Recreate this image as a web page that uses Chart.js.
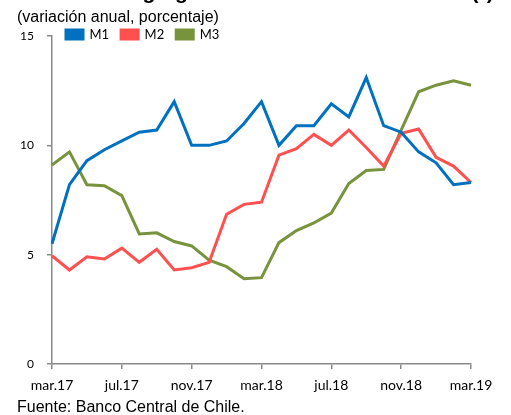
<!DOCTYPE html>
<html>
<head>
<meta charset="utf-8">
<script src="https://cdn.jsdelivr.net/npm/chart.js@4"></script>
<style>
  body { margin: 0; background: #fff; }
  #wrap { position: relative; width: 511px; height: 415px; overflow: hidden; }
  #chart { position: absolute; left: 0; top: -11px; }
  .txt { position: absolute; font-family: "Liberation Sans", Arial, sans-serif; font-size: 16px; line-height: 16px; color: #000; white-space: nowrap; }
  #title { left: 2px; top: -19px; font-size: 21px; line-height: 21px; font-weight: bold; }
  #subtitle { left: 17px; top: 9px; }
  #source { left: 17px; top: 399px; }
</style>
</head>
<body>
<div id="wrap">
  <canvas id="chart" width="511" height="426"></canvas>
  <div class="txt" id="title">Gráfico II.10 Agregados monetarios nominales (*)</div>
  <div class="txt" id="subtitle">(variación anual, porcentaje)</div>
  <div class="txt" id="source">Fuente: Banco Central de Chile.</div>
</div>
<script>
// months mar.17 - mar.19
const months = ['mar.17', 'abr.17', 'may.17', 'jun.17', 'jul.17', 'ago.17', 'sep.17', 'oct.17', 'nov.17', 'dic.17',
  'ene.18', 'feb.18', 'mar.18', 'abr.18', 'may.18', 'jun.18', 'jul.18', 'ago.18', 'sep.18', 'oct.18',
  'nov.18', 'dic.18', 'ene.19', 'feb.19', 'mar.19']

const m1 = [5.5, 8.2, 9.3, 9.8, 10.2, 10.6, 10.7, 12.0, 10.0, 10.0, 10.2, 11.0, 12.0, 10.0, 10.9, 10.9, 11.9, 11.3, 13.1, 10.9, 10.6, 9.7, 9.2, 8.2, 8.3]
const m2 = [4.95, 4.3, 4.9, 4.8, 5.3, 4.65, 5.25, 4.3, 4.4, 4.65, 6.85, 7.3, 7.4, 9.55, 9.85, 10.5, 10.0, 10.7, 9.9, 9.05, 10.55, 10.75, 9.45, 9.05, 8.3]
const m3 = [9.1, 9.7, 8.2, 8.15, 7.7, 5.95, 6.0, 5.6, 5.4, 4.75, 4.45, 3.9, 3.95, 5.55, 6.1, 6.45, 6.9, 8.25, 8.85, 8.9, 10.7, 12.45, 12.75, 12.95, 12.75]

const seriesNames = ['M1', 'M2', 'M3']
const yTicks = [0, 5, 10, 15]

const axisGrey = '#8a8a8a'

Chart.defaults.font.family = 'Lato'
Chart.defaults.color = '#000'

// legend sits on the top edge of the plot in the original, move it down there
const moveLegend = {
  id: 'moveLegend',
  afterLayout(chart) {
    const lg = chart.legend
    const h = lg.height
    lg.left = chart.chartArea.left + 2
    lg.right = chart.chartArea.right
    lg.top = chart.chartArea.top - 20
    lg.bottom = lg.top + h
  }
}

function line(label, data, color) {
  return {
    label: label,
    data: data,
    borderColor: color,
    backgroundColor: color,
    borderWidth: 3,
    pointRadius: 0,
    tension: 0,
    fill: false
  }
}

new Chart(document.getElementById('chart'), {
  type: 'line',
  data: {
    labels: months,
    datasets: [
      line(seriesNames[0], m1, '#0070C0'),
      line(seriesNames[1], m2, '#FF5050'),
      line(seriesNames[2], m3, '#77933C')
    ]
  },
  options: {
    responsive: false,
    animation: false,
    devicePixelRatio: 1,
    layout: { padding: { left: 0, top: 12, right: 40, bottom: 21 } },
    plugins: {
      legend: {
        position: 'top',
        align: 'start',
        labels: {
          boxWidth: 17,
          boxHeight: 9,
          padding: 12,
          font: { size: 13 },
          color: '#000'
        }
      },
      tooltip: { enabled: false }
    },
    scales: {
      x: {
        offset: false,
        grid: { drawOnChartArea: false, drawTicks: true, tickLength: 5, color: axisGrey, lineWidth: 1.5 },
        border: { color: axisGrey, width: 1.5 },
        ticks: {
          autoSkip: false,
          maxRotation: 0,
          padding: 8,
          font: { size: 14 },
          callback: function (val, i) {
            return i % 4 === 0 ? this.getLabelForValue(val) : null
          }
        },
        afterFit: function (scale) { scale.height = 30 }
      },
      y: {
        min: yTicks[0],
        max: yTicks[yTicks.length - 1],
        grid: { drawOnChartArea: false, drawTicks: true, tickLength: 5, color: axisGrey, lineWidth: 1.5 },
        border: { color: axisGrey, width: 1.5 },
        ticks: { stepSize: 5, padding: 13, font: { size: 12 } },
        afterFit: function (scale) { scale.width = 52 }
      }
    }
  },
  plugins: [moveLegend]
})
</script>
</body>
</html>
